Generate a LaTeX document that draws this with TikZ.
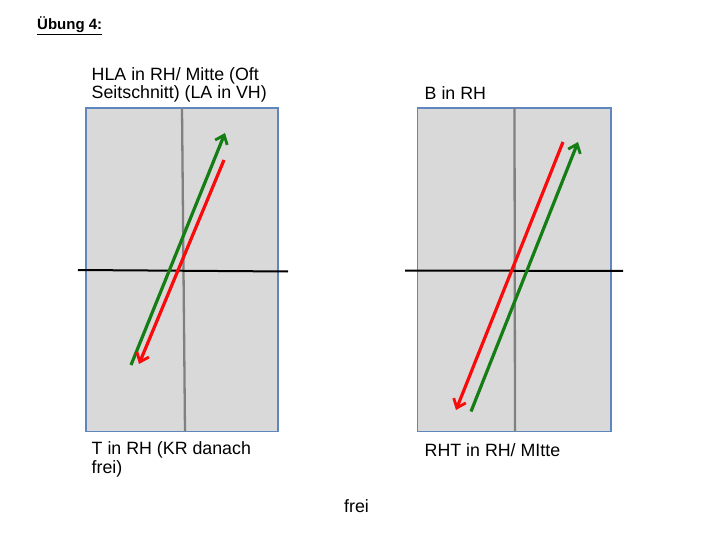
\documentclass[tikz,border=0pt]{standalone}
\usepackage{fontspec}
\setmainfont{Liberation Sans}
\usetikzlibrary{arrows.meta}
\definecolor{boxfill}{RGB}{217,217,217}
\definecolor{boxline}{RGB}{95,135,190}
\definecolor{axisgray}{RGB}{128,128,128}
\definecolor{arrgreen}{RGB}{20,125,20}
\definecolor{arrred}{RGB}{250,10,10}
\tikzset{
  lbl/.style={anchor=base west, inner sep=0pt, font=\fontsize{17.8}{18.5}\selectfont, align=left},
  panel/.style={fill=boxfill, draw=boxline, line width=1.6pt},
  vaxis/.style={draw=axisgray, line width=2.3pt},
  haxis/.style={draw=black, line width=2pt},
  arr/.style={line width=3.2pt, -{Straight Barb[length=8pt,width=13pt,line width=2.8pt]}},
  garr/.style={arr, draw=arrgreen},
  rarr/.style={arr, draw=arrred}
}
\begin{document}
\begin{tikzpicture}[x=1pt,y=-1pt]
\useasboundingbox (0,0) rectangle (720,540);
% title
\node[anchor=base west, inner sep=0pt, font=\fontsize{15}{16}\selectfont\bfseries] (title) at (37,30) {\underline{Übung 4:}};
% left panel
\draw[panel] (86,108) rectangle (278,431.5);
\coordinate (lvt) at (182,108);
\coordinate (lvb) at (185,431.5);
\draw[vaxis] (lvt) -- (lvb);
\coordinate (lhl) at (78,270);
\coordinate (lhr) at (288,271.5);
\draw[haxis] (lhl) -- (lhr);
\coordinate (lgs) at (131,365);
\coordinate (lge) at (225,133);
\coordinate (lrs) at (224,160);
\coordinate (lre) at (139,364);
\draw[garr] (lgs) -- (lge);
\draw[rarr] (lrs) -- (lre);
% right panel
\draw[panel] (417.5,108) rectangle (611,431.5);
\coordinate (rvt) at (514.5,108);
\coordinate (rvb) at (515,431.5);
\draw[vaxis] (rvt) -- (rvb);
\coordinate (rhl) at (405,270.5);
\coordinate (rhr) at (623,271);
\draw[haxis] (rhl) -- (rhr);
\coordinate (rrs) at (563,142);
\coordinate (rre) at (456,410);
\coordinate (rgs) at (471,411.5);
\coordinate (rge) at (578,142);
\draw[rarr] (rrs) -- (rre);
\draw[garr] (rgs) -- (rge);
% labels
\node[lbl] (hla) at (91.5,99) {HLA in RH/ Mitte (Oft\\Seitschnitt) (LA in VH)};
\node[lbl] (b) at (424.5,100) {B in RH};
\node[lbl] (t) at (91.5,473) {T in RH (KR danach\\frei)};
\node[lbl] (rht) at (424.5,456) {RHT in RH/ MItte};
\node[lbl] (frei) at (344,512) {frei};
\end{tikzpicture}
\end{document}
